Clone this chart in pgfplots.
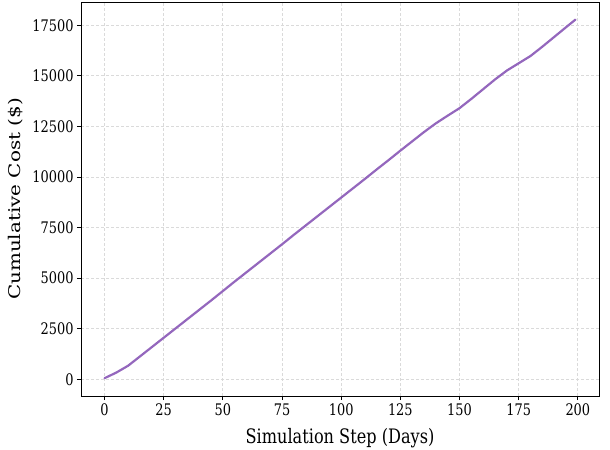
\documentclass[border=0pt]{standalone}
\usepackage{fontspec}
\setmainfont{DejaVu Serif}[FakeStretch=0.81]
\newfontfamily\ylabfont{DejaVu Serif}
\usepackage{graphicx}
\usepackage{pgfplots}
\pgfplotsset{compat=1.18}
\definecolor{linepurple}{RGB}{148,103,189}
\definecolor{gridgray}{RGB}{218,218,218}
\begin{document}
\begin{tikzpicture}
\path[use as bounding box] (-81bp,-54bp) rectangle (529bp,396bp);
\begin{axis}[
  scale only axis,
  width=518bp, height=394bp,
  xmin=-9.95, xmax=208.95,
  ymin=-830, ymax=18650,
  xtick={0,25,50,75,100,125,150,175,200},
  ytick={0,2500,5000,7500,10000,12500,15000,17500},
  xtick pos=bottom, ytick pos=left,
  scaled ticks=false,
  /pgf/number format/assume math mode=true,
  /pgf/number format/set thousands separator={},
  tick align=outside,
  major tick length=4bp,
  tick style={black, line width=0.8bp},
  axis line style={black, line width=0.8bp},
  tick label style={font=\fontsize{16}{19}\selectfont},
  grid=major,
  major grid style={gridgray, line width=0.8bp, dash pattern=on 3bp off 2bp},
  xlabel={Simulation Step (Days)},
  ylabel={\scalebox{1}[0.81]{\ylabfont Cumulative Cost (\$)}},
  xlabel style={font=\fontsize{20}{24}\selectfont, at={(axis description cs:0.5,-0.0812)}, anchor=north, inner sep=0pt},
  ylabel style={font=\fontsize{20}{24}\selectfont, at={(axis description cs:-0.1409,0.5)}, anchor=north, inner sep=0pt},
]
\addplot[linepurple, line width=2.2bp, line join=round, line cap=round] coordinates {
(0,50) (5,330) (10,670) (15,1130) (20,1590) (25,2050) (30,2510) (35,2970)
(40,3430) (45,3890) (50,4360) (55,4830) (60,5290) (65,5750) (70,6210)
(75,6670) (80,7140) (85,7600) (90,8060) (95,8520) (100,8980) (105,9440)
(110,9900) (115,10370) (120,10830) (125,11300) (130,11760) (135,12220)
(140,12650) (145,13030) (150,13400) (155,13860) (160,14340) (165,14820)
(170,15260) (175,15620) (180,15980) (185,16440) (190,16920) (195,17400)
(199,17780)
};
\end{axis}
\end{tikzpicture}
\end{document}
